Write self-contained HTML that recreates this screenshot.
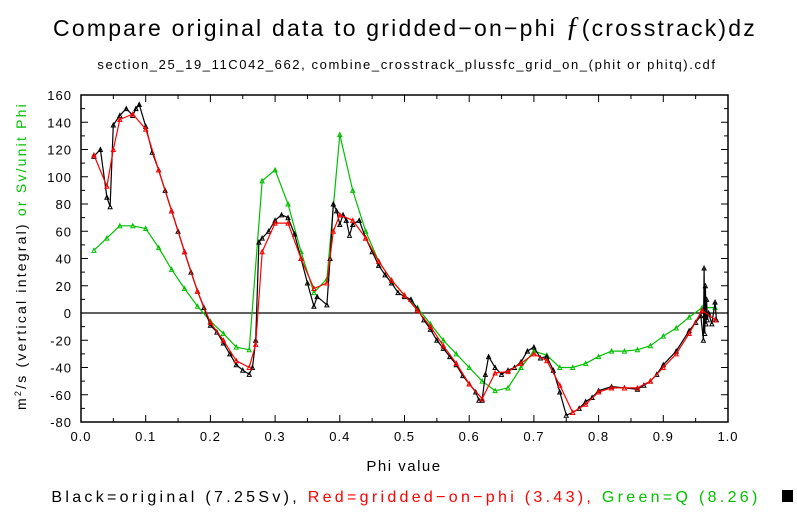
<!DOCTYPE html>
<html><head><meta charset="utf-8"><style>
body{margin:0;background:#fff;width:797px;height:518px;overflow:hidden}
text{font-family:"Liberation Sans","DejaVu Sans",sans-serif}
</style></head><body>
<svg id="s" width="797" height="518" xmlns="http://www.w3.org/2000/svg">
<rect width="797" height="518" fill="#fff"/>
<text x="405" y="36" font-size="23" text-anchor="middle" letter-spacing="2.2" fill="#000">Compare original data to gridded−on−phi <tspan font-style="italic" font-family="Liberation Serif,serif" font-size="28">ƒ</tspan>(crosstrack)dz</text>
<text x="407" y="69" font-size="13" text-anchor="middle" letter-spacing="1.6">section_25_19_11C042_662, combine_crosstrack_plussfc_grid_on_(phit or phitq).cdf</text>
<g id="ax"></g>
<text x="404" y="471" font-size="15" text-anchor="middle" letter-spacing="1.5">Phi value</text>
<text transform="translate(26,256) rotate(-90)" font-size="14" text-anchor="middle" letter-spacing="2.2"><tspan>m</tspan><tspan font-size="9" dy="-5">2</tspan><tspan dy="5">/s (vertical integral) </tspan><tspan fill="#00c000">or Sv/unit Phi</tspan></text>
<text x="406" y="502" font-size="16" text-anchor="middle" letter-spacing="3.3"><tspan>Black=original (7.25Sv), </tspan><tspan fill="#ff0000">Red=gridded−on−phi (3.43), </tspan><tspan fill="#00c000">Green=Q (8.26)</tspan></text>
<rect x="782" y="490" width="11" height="12" fill="#000"/>
</svg>
<script>
const s=document.getElementById('ax');const NS='http://www.w3.org/2000/svg';
function X(p){return 81+647*p}function Y(v){return 313-1.3625*v}
function el(t,a,txt){const e=document.createElementNS(NS,t);for(const k in a)e.setAttribute(k,a[k]);if(txt!==undefined)e.textContent=txt;s.appendChild(e);return e}
el('rect',{x:81,y:95,width:647,height:327,fill:'none',stroke:'#000','stroke-width':1.5});
el('line',{x1:81,y1:313,x2:728,y2:313,stroke:'#000','stroke-width':1.2});
for(let i=0;i<=20;i++){const x=X(i/20),L=i%2==0?7:4;
el('line',{x1:x,y1:422,x2:x,y2:422-L,stroke:'#000'});el('line',{x1:x,y1:95,x2:x,y2:95+L,stroke:'#000'});
if(i%2==0)el('text',{x:x,y:441,'font-size':13,'text-anchor':'middle','letter-spacing':1},(i/20).toFixed(1));}
for(let v=-80;v<=160;v+=10){const y=Y(v),L=v%20==0?7:4;
el('line',{x1:81,y1:y,x2:81+L,y2:y,stroke:'#000'});el('line',{x1:728,y1:y,x2:728-L,y2:y,stroke:'#000'});
if(v%20==0)el('text',{x:72,y:y+5,'font-size':13,'text-anchor':'end','letter-spacing':1},v);}
function series(d,c){let pts=[];for(let i=0;i<d.length;i+=2)pts.push(X(d[i]).toFixed(1)+','+Y(d[i+1]).toFixed(1));
el('polyline',{points:pts.join(' '),fill:'none',stroke:c,'stroke-width':1.2});
for(let i=0;i<d.length;i+=2){const x=X(d[i]),y=Y(d[i+1]);el('path',{d:`M${x-2},${y+2}L${x},${y-2}L${x+2},${y+2}Z`,fill:'none',stroke:c,'stroke-width':1});}}
series([0.02,46,0.04,55,0.06,64,0.08,64,0.10,62,0.12,48,0.14,32,0.16,18,0.18,5,0.20,-6,0.22,-15,0.24,-25,0.26,-27,0.28,97,0.30,105,0.32,80,0.34,45,0.36,15,0.38,25,0.40,131,0.42,90,0.44,60,0.46,38,0.48,24,0.50,13,0.52,4,0.54,-8,0.56,-20,0.58,-30,0.60,-40,0.62,-50,0.64,-57,0.66,-55,0.68,-40,0.70,-28,0.72,-31,0.74,-40,0.76,-40,0.78,-37,0.80,-32,0.82,-28,0.84,-28,0.86,-27,0.88,-24,0.90,-17,0.92,-11,0.94,-3,0.96,4,0.98,4],'#00c000');
series([0.02,115,0.03,120,0.04,85,0.045,78,0.05,138,0.06,145,0.07,150,0.08,145,0.085,150,0.09,153,0.10,137,0.11,118,0.12,105,0.13,90,0.14,75,0.15,60,0.16,45,0.17,30,0.18,16,0.19,4,0.20,-9,0.21,-14,0.22,-22,0.23,-30,0.24,-38,0.25,-42,0.26,-45,0.265,-40,0.27,-20,0.275,52,0.28,55,0.29,60,0.30,68,0.31,72,0.32,70,0.33,58,0.34,40,0.35,22,0.36,5,0.365,12,0.38,6,0.385,40,0.39,80,0.395,75,0.40,65,0.405,72,0.41,68,0.415,57,0.42,65,0.43,68,0.44,55,0.45,45,0.46,35,0.47,28,0.48,22,0.49,15,0.50,12,0.51,10,0.52,3,0.53,-5,0.54,-12,0.55,-20,0.56,-26,0.57,-32,0.58,-38,0.59,-46,0.60,-52,0.61,-58,0.615,-64,0.62,-64,0.625,-45,0.63,-32,0.64,-40,0.65,-45,0.66,-42,0.67,-40,0.68,-36,0.69,-28,0.70,-25,0.71,-33,0.72,-32,0.73,-42,0.74,-58,0.75,-75,0.76,-73,0.77,-70,0.78,-65,0.79,-62,0.80,-57,0.82,-54,0.84,-55,0.86,-56,0.87,-53,0.88,-50,0.89,-45,0.90,-38,0.92,-28,0.94,-13,0.95,-7,0.958,-2,0.962,-20,0.963,33,0.964,-15,0.965,20,0.966,-8,0.967,10,0.968,-5,0.97,0,0.975,-8,0.98,8,0.982,-5],'#000');
series([0.02,116,0.04,93,0.05,120,0.06,142,0.08,146,0.10,135,0.12,105,0.14,75,0.16,45,0.18,16,0.20,-7,0.22,-20,0.24,-35,0.26,-40,0.27,-23,0.28,45,0.30,66,0.32,66,0.34,40,0.36,18,0.38,22,0.39,60,0.40,72,0.42,68,0.44,55,0.46,38,0.48,24,0.50,13,0.52,2,0.54,-10,0.56,-24,0.58,-37,0.60,-52,0.62,-63,0.64,-44,0.66,-43,0.68,-37,0.70,-30,0.72,-35,0.74,-53,0.76,-73,0.78,-67,0.80,-58,0.82,-55,0.84,-55,0.86,-55,0.88,-50,0.90,-40,0.92,-30,0.94,-15,0.96,2,0.98,-5],'#ff0000');
</script>
</body></html>
